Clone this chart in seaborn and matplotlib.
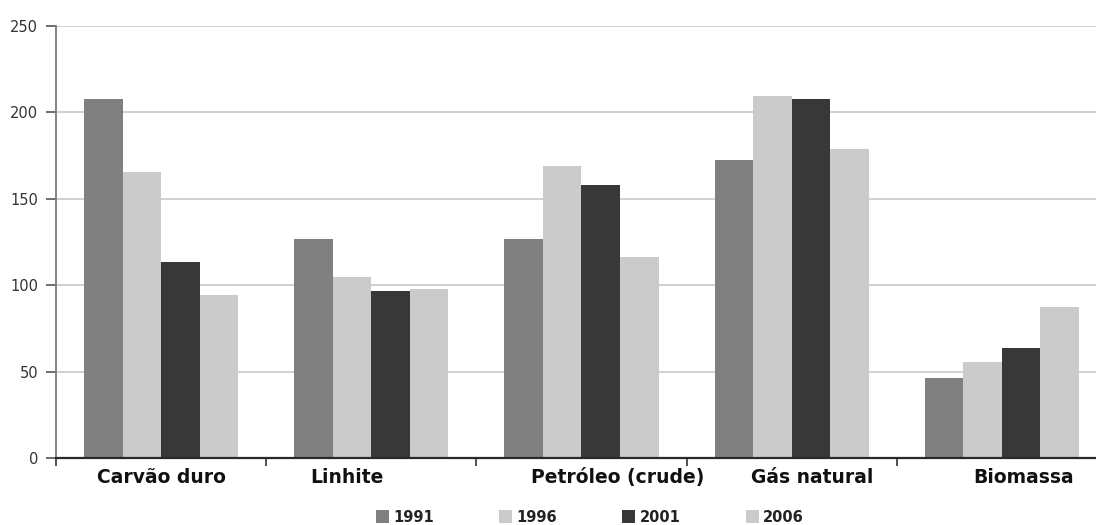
import matplotlib
matplotlib.use("Agg")
import matplotlib.pyplot as plt
import matplotlib.transforms as mtransforms
from matplotlib.patches import Patch
import pandas as pd
import seaborn as sns

# Primary energy production by source (index values)
categories = ["Carvão duro", "Linhite", "Petróleo (crude)", "Gás natural", "Biomassa"]
years = ["1991", "1996", "2001", "2006"]
values_1991 = [208, 126.7, 126.7, 172.3, 46.5]
values_1996 = [165.3, 104.9, 169.2, 209.7, 55.7]
values_2001 = [113.6, 96.5, 158, 207.8, 63.5]
values_2006 = [94.3, 97.6, 116.3, 178.6, 87.6]
y_ticks = [0, 50, 100, 150, 200, 250]

colors = ["#808080", "#cbcbcb", "#383838", "#cbcbcb"]

rows = []
for year, vals in zip(years, [values_1991, values_1996, values_2001, values_2006]):
    for cat, v in zip(categories, vals):
        rows.append({"fonte": cat, "ano": year, "valor": v})
df = pd.DataFrame(rows)

sns.set_theme(style="white")
plt.rcParams["font.family"] = ["DejaVu Sans"]

fig = plt.figure(figsize=(10.96, 5.25), dpi=100)
ax = fig.add_axes([56 / 1096, 1 - 458 / 525, 1 - 56 / 1096, (458 - 26) / 525])

sns.barplot(data=df, x="fonte", y="valor", hue="ano", order=categories,
            hue_order=years, palette=colors, width=0.733, saturation=1,
            edgecolor="none", linewidth=0, legend=False, ax=ax, zorder=2)

ax.set_ylim(0, 250)
ax.set_yticks(y_ticks)
ax.set_yticklabels([str(t) for t in y_ticks], fontsize=10.5, color="#333333")
ax.yaxis.grid(True, color="#c8c8c8", linewidth=1.2, zorder=0)
ax.xaxis.grid(False)
ax.set_axisbelow(True)
ax.set_xlabel("")
ax.set_ylabel("")

for side in ["top", "right"]:
    ax.spines[side].set_visible(False)
ax.spines["left"].set_color("#7a7a7a")
ax.spines["left"].set_linewidth(1.3)
ax.spines["bottom"].set_color("#2a2a2a")
ax.spines["bottom"].set_linewidth(1.6)
ax.spines["bottom"].set_zorder(5)

ax.tick_params(axis="y", which="major", length=7, width=1.2, color="#555555",
               direction="out", pad=6, left=True)

# Category labels in the middle, separator ticks at the group boundaries
ax.set_xticks(range(len(categories)))
ax.set_xticklabels(categories, fontsize=13.5, fontweight="bold", color="#111111")
ax.set_xticks([i - 0.5 for i in range(len(categories))], minor=True)
ax.tick_params(axis="x", which="major", length=0, pad=7)
ax.tick_params(axis="x", which="minor", length=6, width=1.2, color="#333333",
               direction="out", bottom=True)
ax.set_xlim(-0.5, -0.5 + (1096 - 56) / 210.2)

label_shift_px = [0, -24, 36, 20, 22]
for lab, dx in zip(ax.get_xticklabels(), label_shift_px):
    lab.set_transform(lab.get_transform() +
                      mtransforms.ScaledTranslation(dx / 100, 0, fig.dpi_scale_trans))

handles = [Patch(facecolor=c, edgecolor="none", label=y) for c, y in zip(colors, years)]
leg = fig.legend(handles=handles, loc="center", ncol=4,
                 bbox_to_anchor=(590 / 1096, 1 - 517 / 525), frameon=False,
                 prop={"size": 10.5, "weight": "bold"}, handlelength=0.9,
                 handleheight=0.9, handletextpad=0.3, columnspacing=4.45,
                 borderaxespad=0, borderpad=0)
for t in leg.get_texts():
    t.set_color("#222222")

fig.savefig("out.png", dpi=100)
